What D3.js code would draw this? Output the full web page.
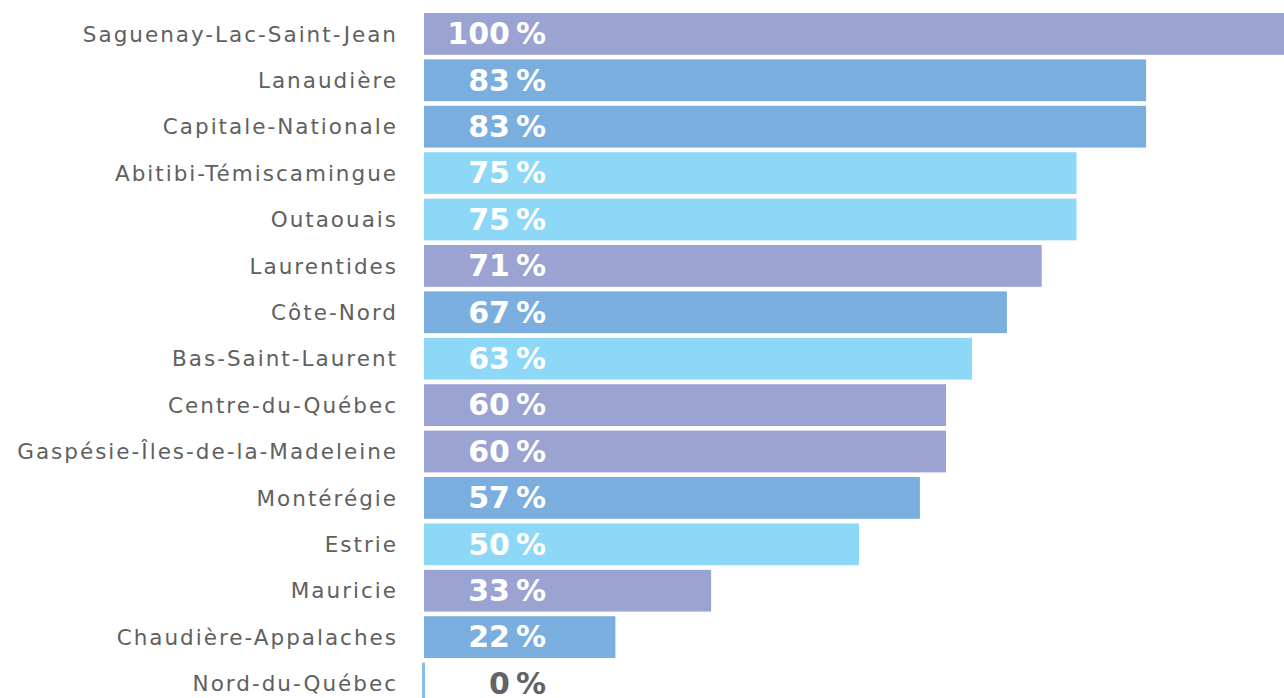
<!DOCTYPE html>
<html>
<head>
<meta charset="utf-8">
<script src="https://cdn.jsdelivr.net/npm/d3@7"></script>
<style>
  body { margin: 0; background: #fff; }
  svg { display: block; }
</style>
</head>
<body>
<script>

var regions = ["Saguenay-Lac-Saint-Jean", "Lanaudière", "Capitale-Nationale",
  "Abitibi-Témiscamingue", "Outaouais", "Laurentides", "Côte-Nord",
  "Bas-Saint-Laurent", "Centre-du-Québec", "Gaspésie-Îles-de-la-Madeleine",
  "Montérégie", "Estrie", "Mauricie", "Chaudière-Appalaches", "Nord-du-Québec"];

var values = [100, 83, 83, 75, 75, 71, 67, 63, 60, 60, 57, 50, 33, 22, 0];

var barColors = ["#9aa3d2", "#7aaede", "#7aaede", "#8dd8f6", "#8dd8f6",
  "#9aa3d2", "#7aaede", "#8dd8f6", "#9aa3d2", "#9aa3d2",
  "#7aaede", "#8dd8f6", "#9aa3d2", "#7aaede", "#8bbdec"];

var width = 1284, height = 698;

var svg = d3.select("body").append("svg")
    .attr("width", width)
    .attr("height", height);

var x = d3.scaleLinear()
    .domain([0, 100])
    .range([424, 1294]);

var y = d3.scaleBand()
    .domain(regions)
    .range([10.7, 706.7])
    .paddingInner(0.1)
    .paddingOuter(0.05);

var data = regions.map(function(r, i){ return {region: r, value: values[i], color: barColors[i]} });

svg.append("g")
    .attr("class", "bars")
    .selectAll("rect")
    .data(data)
    .enter().append("rect")
    .attr("x", function(d){ return d.value > 0 ? x(0) : x(0) - 2 })
    .attr("y", function(d){ return y(d.region) })
    .attr("width", function(d){ return Math.max(3, x(d.value) - x(0)) })
    .attr("height", y.bandwidth())
    .attr("fill", function(d){ return d.color });

// region names, wide spaced like the original
svg.append("g")
    .attr("class", "labels")
    .selectAll("text")
    .data(data)
    .enter().append("text")
    .attr("x", x(0) - 26)
    .attr("y", function(d){ return y(d.region) + y.bandwidth() / 2 })
    .attr("dy", "0.36em")
    .attr("text-anchor", "end")
    .style("font-family", "'DejaVu Sans', sans-serif")
    .style("font-size", "21.5px")
    .style("letter-spacing", "2px")
    .style("fill", "#606060")
    .text(function(d){ return d.region });

svg.append("g")
    .attr("class", "values")
    .selectAll("text")
    .data(data)
    .enter().append("text")
    .attr("x", x(0) + 122)
    .attr("y", function(d){ return y(d.region) + y.bandwidth() / 2 })
    .attr("dy", "0.34em")
    .attr("text-anchor", "end")
    .style("font-family", "'DejaVu Sans', sans-serif")
    .style("font-weight", "700")
    .style("font-size", "30px")
    .style("fill", function(d){ return d.value > 0 ? "#fff" : "#636363" })
    .text(function(d){ return d.value + "\u202F%" });

</script>
</body>
</html>
